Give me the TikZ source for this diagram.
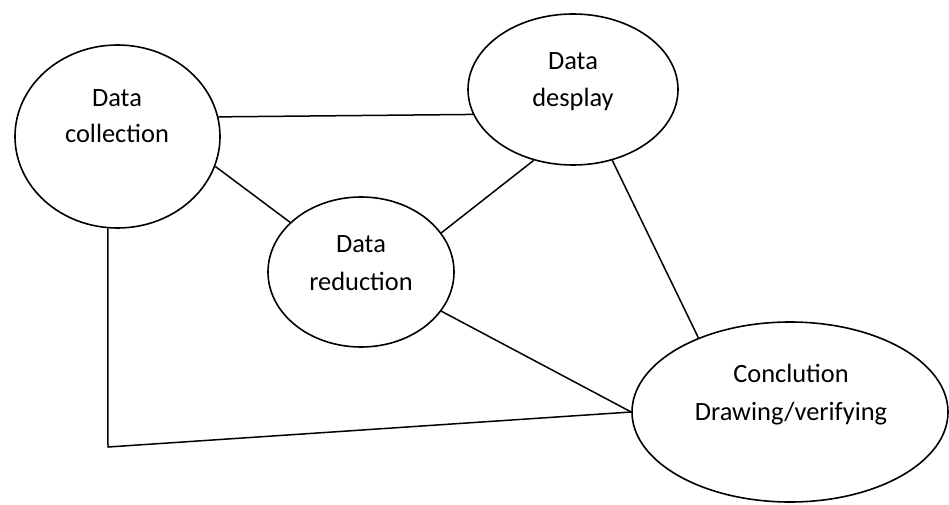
\documentclass[tikz,border=0pt]{standalone}
\usepackage{fontspec}
\setmainfont{Carlito}
\usetikzlibrary{shapes.geometric}
\begin{document}
\begin{tikzpicture}[x=1pt,y=-1pt,
  ell/.style={draw=black,line width=1.6pt,ellipse,inner sep=0pt,fill=none},
  lbl/.style={inner sep=0pt,anchor=base,font=\fontsize{26.4}{37}\selectfont},
  conn/.style={draw=black,line width=1.5pt}]
\useasboundingbox (0,0) rectangle (949,505);
% ellipses
\node[ell,minimum width=205pt,minimum height=183pt] (C) at (117.5,136.5) {};
\node[ell,minimum width=210pt,minimum height=151pt] (D) at (573,89.5) {};
\node[ell,minimum width=186pt,minimum height=150pt] (R) at (361,272) {};
\node[ell,minimum width=316pt,minimum height=180pt] (K) at (790,412) {};
% labels
\node[lbl] (tC1) at (117,107) {Data};
\node[lbl] (tC2) at (117,143) {collection};
\node[lbl] (tD1) at (573,70) {Data};
\node[lbl] (tD2) at (573,107) {desplay};
\node[lbl] (tR1) at (361,252) {Data};
\node[lbl] (tR2) at (361,290) {reduction};
\node[lbl] (tK1) at (791,382) {Conclution};
\node[lbl] (tK2) at (791,420) {Drawing/verifying};
% connectors
\coordinate (corner) at (108,447);
\draw[conn] (C.11.6) -- (D.194.3);
\draw[conn] (C.-17.5) -- (R.145);
\draw[conn] (R.26.6) -- (D.241.7);
\draw[conn] (D.-61.7) -- (K.141.9);
\draw[conn] (R.-26.8) -- (K.180);
\draw[conn] (C.264.1) -- (corner) -- (K.180);
\end{tikzpicture}
\end{document}
